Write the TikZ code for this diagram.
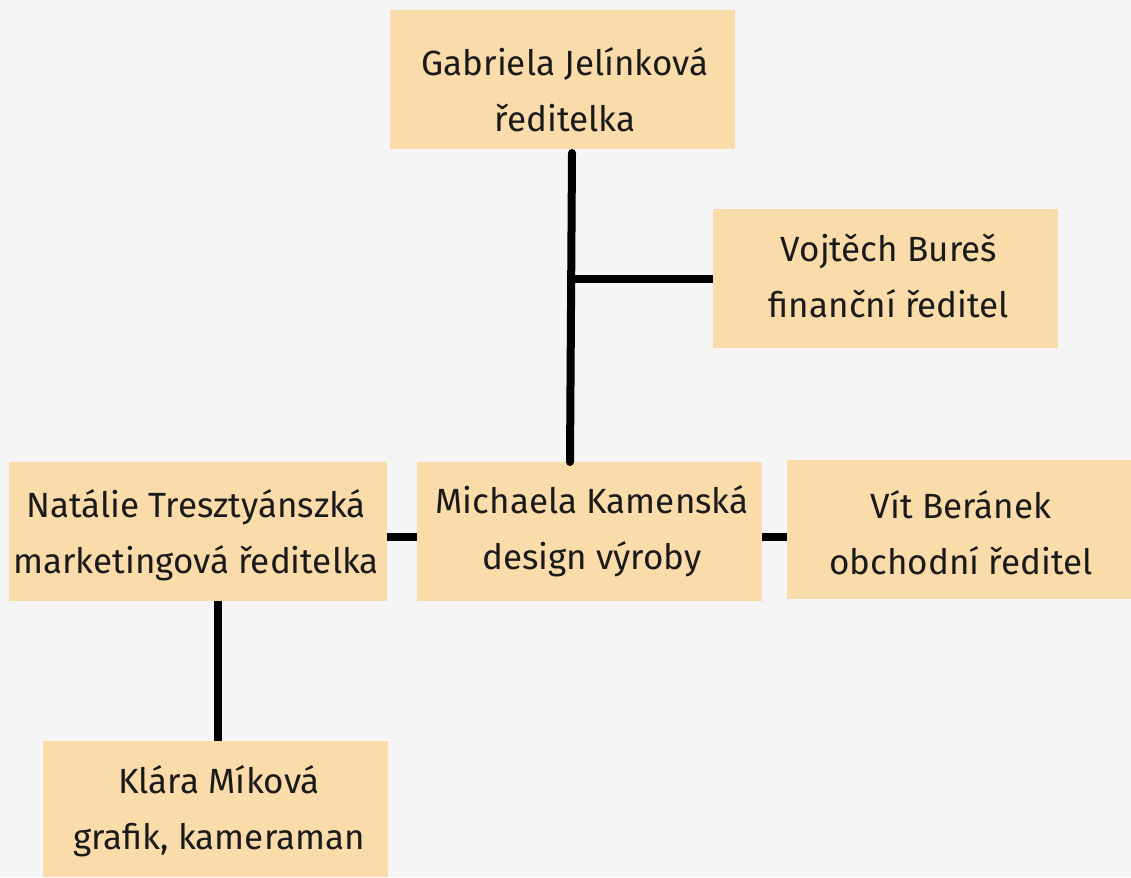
\documentclass[tikz,border=0pt]{standalone}
\usepackage{fontspec}
\setmainfont{Fira Sans}
\definecolor{bg}{HTML}{F5F5F5}
\definecolor{boxfill}{HTML}{FADBAA}
\definecolor{ink}{HTML}{1A1A1A}
\begin{document}
\begin{tikzpicture}[x=1pt,y=-1pt,
  box/.style={fill=boxfill, draw=none, inner sep=0pt, minimum width=345pt, minimum height=139pt},
  txt/.style={align=center, text=ink, inner sep=0pt, font=\fontsize{35}{56}\selectfont},
  link/.style={line width=8pt, black}]
\fill[bg] (0,0) rectangle (1131,877);
\useasboundingbox (0,0) rectangle (1131,877);
% boxes
\node[box] (g) at (562.5,79.5) {};
\node[box] (v) at (885.5,278.5) {};
\node[box, minimum width=378pt] (n) at (198,531.5) {};
\node[box] (m) at (589.5,531.5) {};
\node[box, minimum width=344pt] (w) at (959,529.5) {};
\node[box, minimum height=136pt] (k) at (215.5,809) {};
% texts
\node[txt] (gt) at (565,90) {Gabriela Jelínková\\ředitelka};
\node[txt] (vt) at (889,276) {Vojtěch Bureš\\finanční ředitel};
\node[txt] (nt) at (196,535) {Natálie Tresztyánszká\\marketingová ředitelka};
\node[txt] (mt) at (592,531) {Michaela Kamenská\\design výroby};
\node[txt] (wt) at (961,533) {Vít Beránek\\obchodní ředitel};
\node[txt] (kt) at (219,811) {Klára Míková\\grafik, kameraman};
% connectors
\coordinate (gdown) at (572,153);
\coordinate (mup) at (570,462);
\draw[link, line cap=round] (gdown) -- (mup);
\draw[link] (v.west) -- ++(-141,0);
\draw[link] ([yshift=-5.5pt]n.east) -- ([yshift=-5.5pt]m.west);
\draw[link] ([yshift=-5.5pt]m.east) -- ([yshift=-5.5pt]m.east -| w.west);
\draw[link] ([xshift=20pt]n.south) -- ([xshift=20pt]n.south |- k.north);
\end{tikzpicture}
\end{document}
